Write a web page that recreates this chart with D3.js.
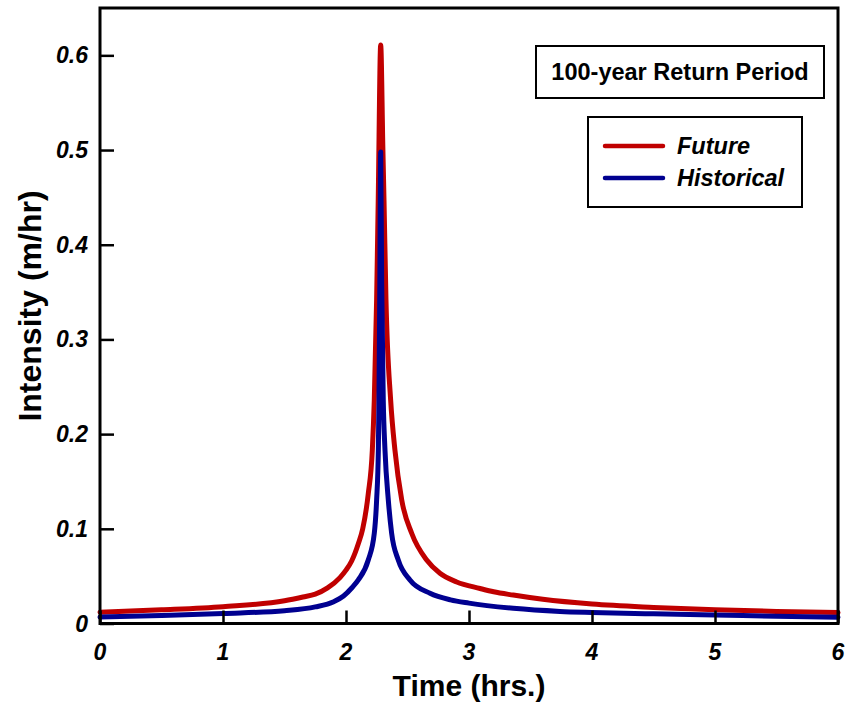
<!DOCTYPE html>
<html><head><meta charset="utf-8">
<script src="https://cdn.jsdelivr.net/npm/d3@7"></script>
<style>body{margin:0;background:#fff}svg{display:block}text{font-family:"Liberation Sans",Arial,sans-serif}</style>
</head><body><svg id="c" width="851" height="706"></svg>
<script>
const xTicks = [0,1,2,3,4,5,6];
const yTicks = [0,0.1,0.2,0.3,0.4,0.5,0.6];
const yTickLabels = ["0","0.1","0.2","0.3","0.4","0.5","0.6"];
const futureTime = [0,0.5,1,1.5,1.65,1.75,1.85,1.951,2.0,2.046,2.1,2.136,2.181,2.214,2.23,2.249,2.262,2.282,2.3,2.309,2.325,2.363,2.398,2.453,2.534,2.656,2.764,2.9,3.09,3.2,3.36,3.6,4,4.5,5,5.5,6];
const futureValues = [0.012,0.0145,0.0178,0.024,0.028,0.031,0.0376,0.0485,0.0563,0.066,0.0842,0.100,0.137,0.183,0.236,0.342,0.447,0.611,0.50,0.447,0.342,0.236,0.183,0.1305,0.0953,0.067,0.053,0.0438,0.037,0.0335,0.030,0.0255,0.0205,0.017,0.0145,0.0128,0.0115];
const histTime = [0,0.5,1,1.5,1.75,1.9,1.98,2.05,2.1,2.181,2.23,2.249,2.263,2.268,2.275,2.282,2.29,2.303,2.317,2.344,2.371,2.425,2.52,2.683,2.85,3.0,3.36,3.74,4,4.5,5,5.5,6];
const histValues = [0.0068,0.0085,0.0106,0.0135,0.0175,0.023,0.029,0.038,0.046,0.067,0.0953,0.1305,0.183,0.236,0.36,0.498,0.36,0.236,0.183,0.1305,0.0953,0.067,0.046,0.032,0.025,0.0215,0.016,0.0128,0.0117,0.0102,0.009,0.0077,0.0066];
const seriesNames = ["Future","Historical"];
const seriesColors = ["#C00000","#000090"];
const titleText = "100-year Return Period";

const svg = d3.select("#c");
const L=100,R=838,T=8,B=623.5;
const x = d3.scaleLinear().domain([0,6]).range([L,R]);
const y = d3.scaleLinear().domain([0,0.65]).range([B,T]);

const line = d3.line().x(d=>x(d[0])).y(d=>y(d[1])).curve(d3.curveMonotoneX);
const plot = svg.append("g");
plot.append("path").datum(futureTime.map((t,i)=>[t,futureValues[i]]))
  .attr("d",line).attr("fill","none").attr("stroke",seriesColors[0]).attr("stroke-width",5).attr("stroke-linejoin","round").attr("stroke-linecap","round");
plot.append("path").datum(histTime.map((t,i)=>[t,histValues[i]]))
  .attr("d",line).attr("fill","none").attr("stroke",seriesColors[1]).attr("stroke-width",5).attr("stroke-linejoin","round").attr("stroke-linecap","round");

const xa = svg.append("g").attr("transform",`translate(0,${B})`)
  .call(d3.axisTop(x).tickValues(xTicks).tickSize(13).tickFormat(""));
const ya = svg.append("g").attr("transform",`translate(${L},0)`)
  .call(d3.axisRight(y).tickValues(yTicks).tickSize(14).tickFormat(""));
[xa,ya].forEach(g=>{g.select(".domain").remove();g.selectAll("line").attr("stroke","#000").attr("stroke-width",2.5);});

svg.append("rect").attr("x",L).attr("y",T).attr("width",R-L).attr("height",B-T)
  .attr("fill","none").attr("stroke","#000").attr("stroke-width",3);

svg.selectAll(".xl").data(xTicks).enter().append("text")
  .attr("x",d=>x(d)).attr("y",660).attr("text-anchor","middle")
  .attr("font-size",23).attr("font-weight","bold").attr("font-style","italic").text(d=>d);
svg.selectAll(".yl").data(yTicks).enter().append("text")
  .attr("x",88).attr("y",d=>y(d)+8).attr("text-anchor","end")
  .attr("font-size",23).attr("font-weight","bold").attr("font-style","italic").text((d,i)=>yTickLabels[i]);

svg.append("text").attr("x",469).attr("y",696).attr("text-anchor","middle")
  .attr("font-size",30).attr("font-weight","bold").text("Time (hrs.)");
svg.append("text").attr("transform","translate(30,306) rotate(-90)").attr("text-anchor","middle")
  .attr("font-size",32).attr("font-weight","bold").attr("dy","0.35em").text("Intensity (m/hr)");

svg.append("rect").attr("x",536).attr("y",46).attr("width",288).attr("height",52)
  .attr("fill","#fff").attr("stroke","#000").attr("stroke-width",2);
svg.append("text").attr("x",680).attr("y",80).attr("text-anchor","middle")
  .attr("font-size",23.5).attr("font-weight","bold").text(titleText);

svg.append("rect").attr("x",588).attr("y",117).attr("width",214).attr("height",90)
  .attr("fill","#fff").attr("stroke","#000").attr("stroke-width",2);
seriesNames.forEach((n,i)=>{
  const yy = 146 + i*32;
  svg.append("line").attr("x1",605).attr("x2",663).attr("y1",yy).attr("y2",yy)
    .attr("stroke",seriesColors[i]).attr("stroke-width",4.5).attr("stroke-linecap","round");
  svg.append("text").attr("x",677).attr("y",yy+8).attr("font-size",23.5)
    .attr("font-weight","bold").attr("font-style","italic").text(n);
});
</script></body></html>
